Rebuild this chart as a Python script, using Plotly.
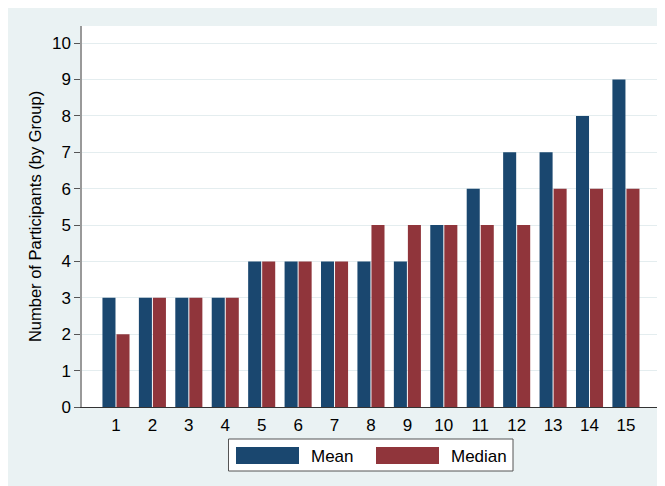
import plotly.graph_objects as go

groups = list(range(1, 16))
mean_vals = [3, 3, 3, 3, 4, 4, 4, 4, 4, 5, 6, 7, 7, 8, 9]
median_vals = [2, 3, 3, 3, 4, 4, 4, 5, 5, 5, 5, 5, 6, 6, 6]
series_names = ["Mean", "Median"]
y_ticks = list(range(0, 11))

NAVY = "#1A476F"
MAROON = "#90353B"
BG = "#EAF2F3"

OFF = 8  # page body margin
W, H = 665, 486
L, R, T, B = 74, 15, 18, 87
PW, PH = W - L - R, H - T - B

def px(x):
    return (x - OFF - L) / PW

def py(y):
    return (H - B - (y - OFF)) / PH

fig = go.Figure()
fig.add_trace(go.Bar(x=groups, y=mean_vals, name=series_names[0],
                     marker=dict(color=NAVY, line=dict(width=0)), showlegend=False))
fig.add_trace(go.Bar(x=groups, y=median_vals, name=series_names[1],
                     marker=dict(color=MAROON, line=dict(width=0)), showlegend=False))

shapes = [
    # legend box
    dict(type="rect", xref="paper", yref="paper", x0=px(228.5), x1=px(513), y0=py(439), y1=py(471),
         fillcolor="white", line=dict(color="#555555", width=1)),
    dict(type="rect", xref="paper", yref="paper", x0=px(236), x1=px(299), y0=py(447), y1=py(464),
         fillcolor=NAVY, line=dict(width=0)),
    dict(type="rect", xref="paper", yref="paper", x0=px(376), x1=px(439), y0=py(447), y1=py(464),
         fillcolor=MAROON, line=dict(width=0)),
]

annotations = [
    dict(x=px(309), y=py(456), xref="paper", yref="paper", text=series_names[0], showarrow=False,
         xanchor="left", yanchor="middle", font=dict(size=17, color="black")),
    dict(x=px(449), y=py(456), xref="paper", yref="paper", text=series_names[1], showarrow=False,
         xanchor="left", yanchor="middle", font=dict(size=17, color="black")),
]

fig.update_layout(
    width=W, height=H,
    margin=dict(l=L, r=R, t=T, b=B, autoexpand=False),
    paper_bgcolor=BG, plot_bgcolor="white",
    font=dict(family="Liberation Sans, Arial, sans-serif", size=16, color="black"),
    barmode="group", bargap=0.23, bargroupgap=0.07,
    showlegend=False,
    shapes=shapes, annotations=annotations,
    xaxis=dict(range=[0.067, 15.88], tickvals=groups, ticktext=[str(g) for g in groups],
               showgrid=False, zeroline=False, showline=True, linecolor="#333333", linewidth=1,
               ticks="outside", ticklen=3, tickcolor="rgba(0,0,0,0)", tickfont=dict(size=17),
               automargin=False, fixedrange=True),
    yaxis=dict(range=[0, 10.47], tickvals=y_ticks, ticktext=[str(v) for v in y_ticks],
               showgrid=True, gridcolor="#E4EDEF", gridwidth=1, zeroline=False,
               showline=True, linecolor="#999999", linewidth=1.5,
               ticks="outside", ticklen=6, tickcolor="#555555", tickfont=dict(size=17),
               automargin=False, fixedrange=True,
               title=dict(text="Number of Participants (by Group)", font=dict(size=16.5), standoff=6)),
)

fig.write_html("out.html")
